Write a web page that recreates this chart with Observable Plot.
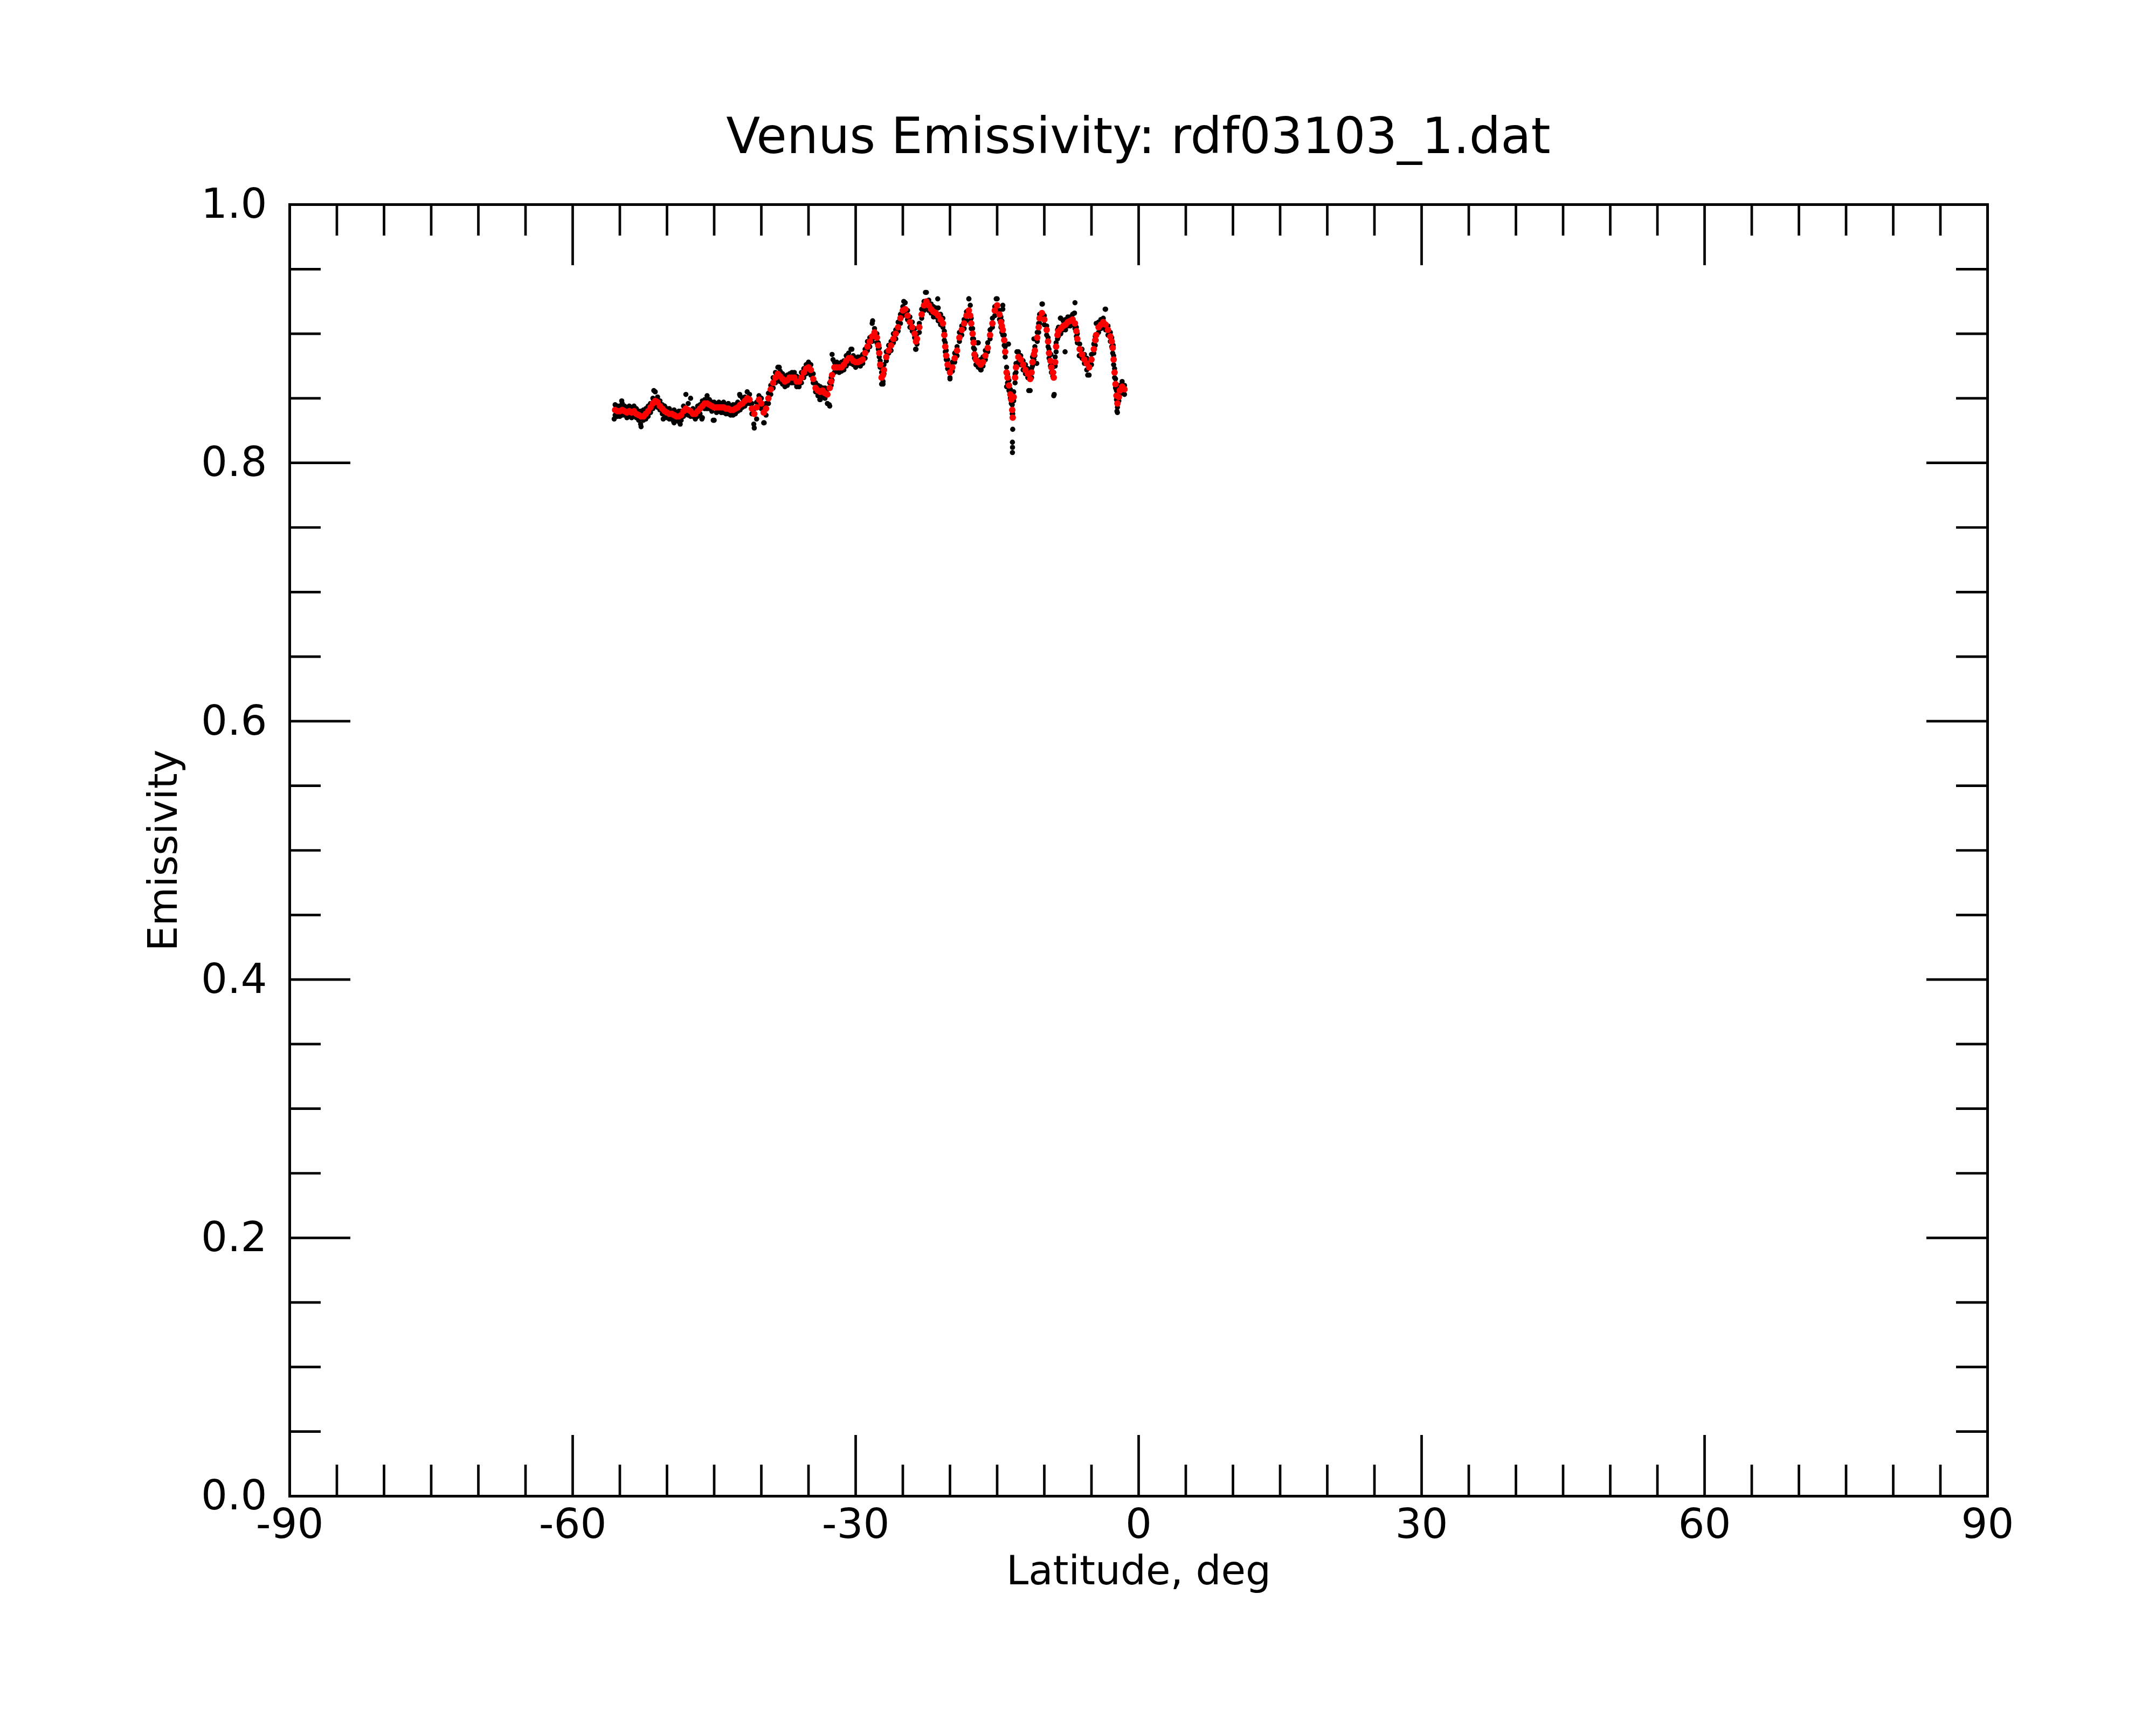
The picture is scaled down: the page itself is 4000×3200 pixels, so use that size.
<!DOCTYPE html>
<html><head><meta charset="utf-8">
<script src="https://cdn.jsdelivr.net/npm/d3@7"></script>
<script src="https://cdn.jsdelivr.net/npm/@observablehq/plot@0.6"></script>
<style>
body{margin:0;background:#fff;}
#title{box-sizing:border-box;width:4000px;height:330px;padding:207px 313px 0 537px;text-align:center;font-family:"DejaVu Sans";font-size:92px;line-height:92px;color:#000;white-space:nowrap;}
</style></head><body>
<div id="title">Venus Emissivity: rdf03103_1.dat</div>
<div id="chart"></div>
<script>
// Latitude (deg) of each sample
const lat = [
-55.5,-55.25,-55,-54.75,-54.5,-54.25,-54,-53.75,-53.5,-53.25,
-53,-52.75,-52.5,-52.25,-52,-51.75,-51.5,-51.25,-51,-50.75,
-50.5,-50.25,-50,-49.75,-49.5,-49.25,-49,-48.75,-48.5,-48.25,
-48,-47.75,-47.5,-47.25,-47,-46.75,-46.5,-46.25,-46,-45.75,
-45.5,-45.25,-45,-44.75,-44.5,-44.25,-44,-43.75,-43.5,-43.25,
-43,-42.75,-42.5,-42.25,-42,-41.75,-41.5,-41.25,-41,-40.75,
-40.5,-40.25,-40,-39.75,-39.5,-39.25,-39,-38.75,-38.5,-38.25,
-38,-37.75,-37.5,-37.25,-37,-36.75,-36.5,-36.25,-36,-35.75,
-35.5,-35.25,-35,-34.75,-34.5,-34.25,-34,-33.75,-33.5,-33.25,
-33,-32.75,-32.6,-32.5,-32.25,-32,-31.75,-31.5,-31.25,-31,
-30.75,-30.5,-30.25,-30,-29.75,-29.5,-29.25,-29,-28.75,-28.5,
-28.25,-28,-27.75,-27.6,-27.5,-27.4,-27.25,-27.1,-27,-26.75,
-26.5,-26.25,-26,-25.75,-25.5,-25.25,-25,-24.75,-24.5,-24.25,
-24,-23.75,-23.6,-23.5,-23.25,-23,-22.75,-22.5,-22.25,-22,
-21.75,-21.5,-21.25,-21,-20.75,-20.6,-20.5,-20.4,-20.25,-20,
-19.75,-19.5,-19.25,-19,-18.75,-18.5,-18.25,-18,-17.85,-17.75,
-17.6,-17.5,-17.4,-17.25,-17,-16.75,-16.5,-16.25,-16,-15.75,
-15.5,-15.25,-15,-14.75,-14.6,-14.5,-14.4,-14.25,-14.15,-14,
-13.9,-13.75,-13.6,-13.5,-13.4,-13.35,-13.25,-13.1,-13,-12.75,
-12.5,-12.25,-12,-11.75,-11.5,-11.35,-11.25,-11.1,-11,-10.75,
-10.6,-10.5,-10.25,-10,-9.75,-9.6,-9.5,-9.35,-9.25,-9.1,
-9,-8.85,-8.75,-8.6,-8.5,-8.25,-8,-7.75,-7.5,-7.25,
-7,-6.75,-6.6,-6.5,-6.25,-6,-5.75,-5.5,-5.25,-5,
-4.75,-4.6,-4.5,-4.25,-4,-3.75,-3.5,-3.25,-3,-2.85,
-2.75,-2.65,-2.55,-2.45,-2.35,-2.25,-2.1,-2,-1.75,-1.5
];
// Smoothed emissivity (red)
const smoothE = [
.841,.840,.840,.841,.840,.839,.840,.839,.840,.838,
.837,.836,.836,.838,.840,.843,.846,.848,.847,.844,
.842,.840,.839,.838,.838,.837,.836,.836,.837,.840,
.842,.841,.840,.838,.838,.840,.842,.844,.846,.846,
.845,.844,.843,.843,.843,.843,.843,.842,.842,.841,
.841,.842,.843,.845,.846,.848,.850,.849,.842,.838,
.843,.849,.846,.839,.842,.850,.857,.862,.866,.869,
.867,.865,.863,.864,.866,.866,.866,.863,.863,.866,
.870,.873,.874,.872,.865,.858,.856,.855,.856,.854,
.853,.858,.863,.868,.874,.874,.874,.874,.876,.879,
.881,.881,.879,.878,.878,.879,.880,.885,.890,.894,
.898,.901,.897,.891,.885,.876,.866,.868,.872,.882,
.887,.891,.896,.900,.905,.912,.918,.919,.914,.909,
.905,.900,.894,.896,.905,.915,.922,.925,.922,.919,
.917,.916,.914,.911,.908,.899,.890,.883,.876,.870,
.874,.881,.887,.897,.903,.908,.914,.918,.914,.908,
.900,.893,.884,.880,.878,.876,.878,.883,.889,.899,
.908,.918,.922,.915,.909,.906,.903,.895,.886,.870,
.866,.860,.853,.849,.841,.835,.851,.866,.874,.882,
.880,.876,.872,.869,.865,.870,.878,.884,.887,.897,
.905,.912,.916,.911,.903,.894,.885,.879,.874,.870,
.866,.878,.890,.899,.902,.904,.906,.907,.909,.910,
.911,.908,.902,.896,.888,.884,.880,.877,.874,.880,
.888,.895,.899,.905,.907,.909,.907,.903,.898,.894,
.889,.880,.870,.861,.852,.846,.851,.856,.859,.857
];
// Raw emissivity (black), first sample at each latitude
const rawE = [
.845,.836,.844,.846,.837,.843,.836,.843,.844,.835,
.840,.828,.833,.842,.836,.846,.850,.855,.851,.841,
.845,.835,.842,.834,.840,.831,.839,.832,.840,.844,
.853,.846,.850,.836,.841,.836,.845,.835,.849,.852,
.842,.847,.833,.846,.840,.846,.839,.845,.838,.844,
.837,.845,.840,.852,.843,.851,.855,.846,.838,.827,
.834,.852,.842,.831,.837,.846,.860,.858,.870,.874,
.871,.861,.867,.860,.869,.862,.870,.859,.866,.862,
.873,.876,.870,.876,.862,.855,.852,.849,.858,.850,
.846,.844,.866,.884,.878,.871,.877,.871,.879,.883,
.885,.888,.876,.881,.876,.882,.877,.888,.887,.897,
.908,.904,.900,.893,.882,.874,.861,.863,.869,.879,
.885,.894,.893,.903,.902,.915,.921,.924,.911,.913,
.902,.897,.888,.892,.908,.912,.925,.932,.926,.916,
.921,.913,.920,.915,.905,.902,.893,.880,.873,.865,
.871,.878,.890,.894,.906,.911,.917,.927,.922,.912,
.904,.896,.881,.883,.893,.872,.875,.880,.886,.896,
.905,.921,.927,.918,.905,.901,.919,.899,.890,.859,
.869,.856,.850,.846,.838,.826,.848,.869,.877,.886,
.883,.879,.869,.866,.856,.873,.875,.896,.890,.894,
.908,.915,.923,.914,.906,.897,.888,.884,.877,.867,
.852,.875,.893,.896,.905,.912,.903,.911,.906,.913,
.915,.924,.905,.893,.883,.881,.877,.872,.868,.876,
.885,.898,.908,.909,.904,.912,.919,.906,.901,.897,
.891,.883,.873,.858,.849,.839,.848,.853,.856,.860
];
// Raw emissivity (black), second sample at each latitude
const rawE2 = [
.837,.844,.836,.837,.844,.835,.844,.835,.836,.842,
.833,.840,.841,.834,.844,.839,.842,.844,.843,.848,
.838,.844,.835,.842,.834,.841,.833,.840,.833,.836,
.838,.837,.836,.842,.834,.844,.838,.848,.842,.842,
.849,.840,.847,.839,.847,.839,.847,.838,.846,.837,
.845,.838,.847,.841,.850,.844,.846,.853,.846,.842,
.847,.845,.850,.843,.846,.854,.853,.866,.862,.865,
.863,.869,.859,.868,.862,.870,.862,.867,.859,.870,
.866,.869,.878,.868,.869,.862,.860,.859,.852,.858,
.857,.862,.860,.864,.870,.878,.870,.878,.872,.875,
.877,.877,.883,.874,.882,.875,.884,.881,.894,.890,
.894,.897,.893,.888,.889,.879,.870,.872,.876,.886,
.891,.887,.900,.896,.909,.908,.914,.915,.918,.905,
.909,.904,.898,.900,.901,.919,.918,.921,.918,.923,
.913,.920,.910,.907,.912,.895,.886,.887,.880,.874,
.878,.885,.883,.901,.899,.904,.910,.914,.910,.904,
.896,.889,.888,.876,.874,.880,.882,.887,.893,.903,
.912,.914,.918,.911,.913,.910,.899,.891,.882,.874,
.862,.864,.857,.853,.845,.838,.855,.862,.870,.878,
.876,.872,.876,.873,.869,.866,.882,.880,.883,.901,
.901,.908,.912,.907,.899,.890,.881,.875,.870,.874,
.870,.882,.886,.903,.898,.900,.910,.903,.913,.906,
.907,.904,.898,.900,.892,.888,.884,.881,.878,.884,
.892,.891,.895,.901,.911,.905,.903,.899,.894,.890,
.885,.876,.866,.865,.856,.843,.855,.860,.863,.853
];
// Additional raw (black) samples that stand off the curve
const outLat = [-55.6,-54.8,-52.8,-51.4,-50.4,-49.3,-48.6,-46.3,-45.1,-42.3,-40.8,-39.7,-38.1,-33.8,-32.8,-32.4,-30.4,-29.7,-28.2,-27.1,-24.9,-23.65,-22.6,-21.3,-20.0,-18.0,-17.1,-16.7,-15.1,-14.4,-13.8,-13.38,-13.37,-13.38,-12.9,-11.65,-10.8,-10.2,-9.3,-8.95,-8.3,-7.8,-6.8,-6.3,-5.4,-3.55,-2.7,-2.3];
const outE   = [.834,.848,.830,.856,.834,.832,.830,.834,.833,.853,.830,.831,.874,.849,.845,.880,.888,.876,.910,.861,.925,.888,.932,.927,.866,.927,.893,.872,.927,.922,.892,.816,.812,.808,.886,.856,.877,.923,.884,.853,.912,.886,.916,.883,.868,.919,.891,.840];

// Axis ticks and labels
const xMajor = [-90,-60,-30,0,30,60,90];
const xMinor = [-85,-80,-75,-70,-65,-55,-50,-45,-40,-35,-25,-20,-15,-10,-5,5,10,15,20,25,35,40,45,50,55,65,70,75,80,85];
const yMajor = [0,0.2,0.4,0.6,0.8,1.0];
const yMinor = [0.05,0.1,0.15,0.25,0.3,0.35,0.45,0.5,0.55,0.65,0.7,0.75,0.85,0.9,0.95];
const xTitle = "Latitude, deg";
const yTitle = "Emissivity";

const W = 4000, H = 2870, mL = 537, mR = 313, mT = 49, mB = 425;
const FW = W - mL - mR, FH = H - mT - mB;
const majorLen = 113, minorLen = 58, tickW = 4.7;

const raw = lat.map((d, i) => ({lat: d, e: rawE[i]}))
  .concat(lat.map((d, i) => ({lat: d, e: rawE2[i]})))
  .concat(outLat.map((d, i) => ({lat: d, e: outE[i]})));
const smooth = lat.map((d, i) => ({lat: d, e: smoothE[i]}));

const tick = {stroke: "#000", strokeWidth: tickW};
const plot = Plot.plot({
  width: W, height: H,
  marginLeft: mL, marginRight: mR, marginTop: mT, marginBottom: mB,
  style: {fontFamily: '"DejaVu Sans"', background: "#fff", color: "#000"},
  x: {domain: [-90, 90]},
  y: {domain: [0, 1]},
  marks: [
    Plot.dot(raw, {x: "lat", y: "e", r: 4.8, fill: "#000"}),
    Plot.dot(smooth, {x: "lat", y: "e", r: 6, fill: "#ff0000"}),
    // bottom & top ticks (inward)
    Plot.ruleX(xMinor, {x: d => d, insetTop: FH - minorLen, ...tick}),
    Plot.ruleX(xMajor, {x: d => d, insetTop: FH - majorLen, ...tick}),
    Plot.ruleX(xMinor, {x: d => d, insetBottom: FH - minorLen, ...tick}),
    Plot.ruleX(xMajor, {x: d => d, insetBottom: FH - majorLen, ...tick}),
    // left & right ticks (inward)
    Plot.ruleY(yMinor, {y: d => d, insetRight: FW - minorLen, ...tick}),
    Plot.ruleY(yMajor, {y: d => d, insetRight: FW - majorLen, ...tick}),
    Plot.ruleY(yMinor, {y: d => d, insetLeft: FW - minorLen, ...tick}),
    Plot.ruleY(yMajor, {y: d => d, insetLeft: FW - majorLen, ...tick}),
    Plot.frame({stroke: "#000", strokeWidth: 5}),
    Plot.axisX({ticks: xMajor, tickSize: 0, tickPadding: 23, fontSize: 77, tickFormat: d => String(d), label: null}),
    Plot.axisY({ticks: yMajor, tickSize: 0, tickPadding: 42, fontSize: 77, tickFormat: d => d.toFixed(1), label: null}),
    Plot.text([xTitle], {text: d => d, frameAnchor: "bottom", lineAnchor: "bottom", dy: 163, fontSize: 74, fill: "#000"}),
    Plot.text([yTitle], {text: d => d, frameAnchor: "left", textAnchor: "middle", lineAnchor: "bottom", rotate: -90, dx: -210, fontSize: 74, fill: "#000"})
  ]
});
document.getElementById("chart").appendChild(plot);
</script>
</body></html>
